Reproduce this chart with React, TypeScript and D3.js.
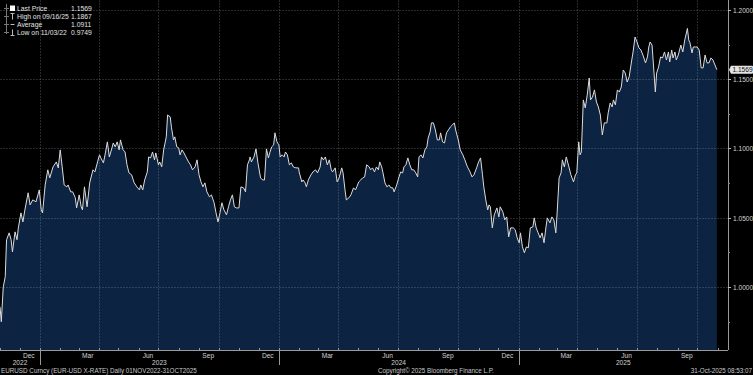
import React from "react";
import * as d3 from "d3";

// EURUSD daily closes: [days since START, close]
const START = "2022-11-01";
const END_DOMAIN = "2025-11-17";
const closes: [number, number][] = [
  [0, 0.9857], [2, 0.9749], [5, 1.0001], [8, 1.0074], [10, 1.0341], [14, 1.0391], [17, 1.0341],
  [19, 1.0254], [23, 1.0398], [26, 1.0341], [28, 1.0427], [32, 1.0535], [35, 1.047], [38, 1.0557],
  [43, 1.068], [46, 1.0593], [50, 1.0629], [55, 1.0615], [60, 1.0701], [63, 1.0557], [65, 1.0535],
  [69, 1.0737], [73, 1.0846], [76, 1.0788], [81, 1.0867], [86, 1.0903], [89, 1.086], [92, 1.099],
  [95, 1.0867], [98, 1.0737], [102, 1.0723], [104, 1.0737], [108, 1.0687], [111, 1.0687], [115, 1.0644],
  [117, 1.0571], [121, 1.0665], [124, 1.0579], [126, 1.0557], [129, 1.0723], [133, 1.0579], [137, 1.0752],
  [142, 1.0846], [145, 1.0831], [149, 1.0903], [152, 1.0954], [154, 1.0932], [158, 1.0896], [161, 1.0968],
  [164, 1.1048], [167, 1.0939], [171, 1.1004], [173, 1.104], [176, 1.1012], [179, 1.1048], [182, 1.099],
  [184, 1.1062], [188, 1.099], [191, 1.0975], [194, 1.0882], [197, 1.0824], [201, 1.081], [205, 1.0752],
  [209, 1.0723], [213, 1.0701], [215, 1.0737], [218, 1.0701], [221, 1.0773], [225, 1.0831], [227, 1.0939],
  [230, 1.0932], [233, 1.0975], [236, 1.0918], [238, 1.0968], [242, 1.0882], [244, 1.0903], [247, 1.0867],
  [250, 1.099], [254, 1.1084], [256, 1.1242], [260, 1.1228], [262, 1.1149], [265, 1.1062], [267, 1.1084],
  [270, 1.1012], [273, 1.1004], [275, 1.0954], [278, 1.099], [281, 1.0968], [284, 1.0939], [288, 1.0903],
  [291, 1.0882], [294, 1.0846], [298, 1.0867], [301, 1.0918], [304, 1.081], [307, 1.0759], [310, 1.0723],
  [313, 1.0752], [316, 1.0687], [320, 1.0651], [323, 1.0665], [327, 1.0608], [330, 1.0535], [333, 1.047],
  [336, 1.0535], [339, 1.0608], [342, 1.0557], [346, 1.0521], [349, 1.0579], [352, 1.0629], [355, 1.0665],
  [358, 1.0579], [361, 1.0571], [365, 1.0571], [368, 1.0723], [372, 1.0716], [375, 1.0687], [378, 1.0882],
  [381, 1.0918], [382, 1.0939], [384, 1.0903], [388, 1.0939], [391, 1.0997], [394, 1.0896], [398, 1.0788],
  [401, 1.0773], [404, 1.0773], [407, 1.0997], [410, 1.0932], [412, 1.0968], [415, 1.1012], [418, 1.1026],
  [420, 1.1113], [423, 1.1048], [426, 1.1026], [428, 1.0939], [431, 1.0954], [434, 1.0939], [436, 1.0975],
  [439, 1.0954], [442, 1.0882], [445, 1.0896], [448, 1.0867], [452, 1.086], [456, 1.086], [457, 1.0831],
  [461, 1.0759], [463, 1.0773], [466, 1.0752], [468, 1.0723], [471, 1.0773], [475, 1.081], [478, 1.0831],
  [482, 1.0846], [485, 1.0824], [489, 1.0867], [491, 1.0939], [494, 1.0918], [497, 1.0939], [500, 1.0882],
  [503, 1.0918], [506, 1.0846], [508, 1.0831], [512, 1.086], [515, 1.0759], [518, 1.0788], [522, 1.086],
  [524, 1.0824], [527, 1.0701], [529, 1.0629], [533, 1.0644], [536, 1.0665], [540, 1.0716], [543, 1.0701],
  [545, 1.0723], [548, 1.0759], [551, 1.0773], [554, 1.0788], [557, 1.0795], [560, 1.0882], [564, 1.0867],
  [566, 1.0846], [569, 1.086], [572, 1.0831], [575, 1.0867], [578, 1.0846], [580, 1.0903], [583, 1.0867],
  [585, 1.0824], [588, 1.0752], [591, 1.0723], [594, 1.0737], [597, 1.0716], [600, 1.0716], [602, 1.0687],
  [606, 1.0737], [609, 1.0788], [612, 1.0831], [615, 1.0824], [617, 1.0867], [620, 1.0882], [623, 1.0932],
  [626, 1.0882], [629, 1.0846], [632, 1.0846], [635, 1.0824], [638, 1.0795], [640, 1.0939], [643, 1.0954],
  [646, 1.0932], [649, 1.099], [652, 1.1012], [654, 1.1076], [657, 1.112], [659, 1.1185], [662, 1.1185],
  [665, 1.1134], [668, 1.1062], [671, 1.1062], [673, 1.1113], [676, 1.1048], [679, 1.104], [682, 1.1113],
  [685, 1.1134], [688, 1.1156], [691, 1.117], [694, 1.1185], [696, 1.1134], [700, 1.1062], [703, 1.099],
  [707, 1.0954], [710, 1.0918], [714, 1.0867], [718, 1.0831], [721, 1.0795], [724, 1.081], [728, 1.086],
  [731, 1.0903], [734, 1.0932], [737, 1.081], [739, 1.0723], [742, 1.0629], [745, 1.0557], [747, 1.0593],
  [749, 1.0579], [752, 1.0427], [755, 1.0521], [759, 1.0571], [762, 1.0506], [764, 1.0579], [768, 1.0543],
  [771, 1.0485], [774, 1.0506], [777, 1.0362], [780, 1.0427], [784, 1.0427], [787, 1.0413], [790, 1.0355],
  [793, 1.0319], [795, 1.0391], [798, 1.029], [801, 1.0247], [804, 1.029], [807, 1.0283], [810, 1.0427],
  [814, 1.0434], [816, 1.0499], [819, 1.0427], [822, 1.0391], [825, 1.0355], [828, 1.0391], [831, 1.0319],
  [834, 1.0434], [836, 1.0499], [840, 1.0463], [843, 1.0506], [846, 1.0485], [849, 1.0391], [851, 1.0535],
  [854, 1.0788], [857, 1.0824], [859, 1.0918], [862, 1.0867], [865, 1.0939], [869, 1.0867], [872, 1.081],
  [876, 1.0759], [879, 1.081], [881, 1.0824], [884, 1.1048], [886, 1.0954], [888, 1.0975], [891, 1.1351],
  [894, 1.1293], [897, 1.1387], [900, 1.1509], [902, 1.1351], [905, 1.1372], [908, 1.1423], [911, 1.1336],
  [914, 1.13], [917, 1.1242], [920, 1.1098], [923, 1.1185], [927, 1.1185], [929, 1.1257], [932, 1.1329],
  [935, 1.13], [937, 1.1351], [940, 1.1315], [943, 1.1423], [946, 1.1408], [949, 1.1444], [952, 1.1567],
  [955, 1.1545], [958, 1.148], [961, 1.1517], [965, 1.1639], [967, 1.1697], [970, 1.1805], [973, 1.1769],
  [976, 1.1726], [979, 1.1711], [982, 1.1675], [986, 1.1618], [989, 1.1661], [991, 1.1733], [993, 1.1769],
  [996, 1.1747], [999, 1.1545], [1001, 1.1408], [1003, 1.1545], [1006, 1.1589], [1009, 1.1661], [1012, 1.1654],
  [1015, 1.1697], [1018, 1.1639], [1021, 1.1697], [1023, 1.1625], [1026, 1.1711], [1028, 1.1654], [1031, 1.1697],
  [1033, 1.1639], [1036, 1.1675], [1040, 1.1747], [1043, 1.1697], [1046, 1.1784], [1050, 1.1867], [1052, 1.1784],
  [1054, 1.1762], [1057, 1.169], [1059, 1.1733], [1062, 1.1733], [1065, 1.1733], [1068, 1.1711], [1071, 1.1582],
  [1074, 1.1582], [1077, 1.1675], [1080, 1.1618], [1083, 1.1618], [1086, 1.1654], [1089, 1.1639], [1095, 1.1569],
];

const yTicks = [1.0, 1.05, 1.1, 1.15, 1.2];
const yMinorTicks = [0.975, 1.025, 1.075, 1.125, 1.175];
const years = [2022, 2023, 2024, 2025];
const LAST_PRICE = 1.1569;

const legendRows = [
  { label: "Last Price", value: "1.1569", mark: "square" },
  { label: "High on 09/16/25", value: "1.1867", mark: "high" },
  { label: "Average", value: "1.0911", mark: "avg" },
  { label: "Low on 11/03/22", value: "0.9749", mark: "low" },
];

const footerLeft = "EURUSD Curncy (EUR-USD X-RATE) Daily 01NOV2022-31OCT2025";
const footerMid = "Copyright\u00A9 2025 Bloomberg Finance L.P.";
const footerRight = "31-Oct-2025 08:53:07";

const FONT = "'Liberation Sans', Arial, sans-serif";

export default function App() {
  const W = 753;
  const H = 375;
  const right = 728;
  const bottom = 350;

  const start = new Date(START + "T00:00:00");
  const end = new Date(END_DOMAIN + "T00:00:00");
  const data = closes.map(([d, v]) => ({ date: d3.timeDay.offset(start, d), v }));

  const x = d3.scaleTime().domain([start, end]).range([0, right]);
  const y = d3.scaleLinear().domain([1.0, 1.2]).range([287, 10]);

  const area = d3
    .area<{ date: Date; v: number }>()
    .x((d) => x(d.date))
    .y0(bottom)
    .y1((d) => y(d.v));
  const line = d3
    .line<{ date: Date; v: number }>()
    .x((d) => x(d.date))
    .y((d) => y(d.v));

  const months = d3.timeMonth.range(start, end);
  const gridMonths = months.filter((m) => m.getMonth() % 3 === 0);
  const labelMonths = months.filter((m) => m.getMonth() % 3 === 2);
  const yearStarts = months.filter((m) => m.getMonth() === 0);
  const fmt = d3.timeFormat("%b");

  const yearMid = (yr: number) => {
    const a = Math.max(+start, +new Date(yr, 0, 1));
    const b = Math.min(+end, +new Date(yr + 1, 0, 1));
    return (x(new Date(a)) + x(new Date(b))) / 2;
  };

  const lastX = x(data[data.length - 1].date);

  return (
    <svg
      width={W}
      height={H}
      style={{ position: "fixed", left: 0, top: 0, display: "block" }}
      fontFamily={FONT}
    >
      <rect width={W} height={H} fill="#000" />

      <path d={area(data) || ""} fill="#0c2341" />

      {/* grid */}
      {yTicks.map((t) => (
        <line
          key={t}
          x1={0}
          x2={right}
          y1={Math.round(y(t)) + 0.5}
          y2={Math.round(y(t)) + 0.5}
          stroke="#8a96a6"
          strokeOpacity={0.28}
          strokeDasharray="2,1"
        />
      ))}
      {gridMonths.map((m) => (
        <line
          key={+m}
          x1={Math.round(x(m)) + 0.5}
          x2={Math.round(x(m)) + 0.5}
          y1={0}
          y2={bottom}
          stroke="#8a96a6"
          strokeOpacity={0.28}
          strokeDasharray="2,1"
        />
      ))}

      <path d={line(data) || ""} fill="none" stroke="#dcdcdc" strokeWidth={1} strokeLinejoin="round" />

      {/* right axis */}
      <line x1={right + 0.5} x2={right + 0.5} y1={0} y2={bottom} stroke="#9a9a9a" />
      {yTicks.map((t) => (
        <g key={t} transform={`translate(${right},${Math.round(y(t)) + 0.5})`}>
          <line x1={0} x2={3} stroke="#bbb" />
          <text x={5} dy="0.34em" fontSize={6.6} fill="#d2d2d2">
            {t.toFixed(4)}
          </text>
        </g>
      ))}
      {yMinorTicks.map((t) => (
        <line
          key={t}
          x1={right}
          x2={right + 2}
          y1={Math.round(y(t)) + 0.5}
          y2={Math.round(y(t)) + 0.5}
          stroke="#888"
        />
      ))}
      <g transform={`translate(${right + 1},${y(LAST_PRICE)})`}>
        <path d="M0,0 L2,-4 L23,-4 Q24,-4 24,-3 L24,3 Q24,4 23,4 L2,4 Z" fill="#e4e4e4" />
        <text x={13.5} dy="0.34em" fontSize={6.6} fill="#111" textAnchor="middle">
          {LAST_PRICE.toFixed(4)}
        </text>
      </g>

      {/* bottom axis */}
      <line x1={0} x2={right} y1={bottom + 0.5} y2={bottom + 0.5} stroke="#9a9a9a" />
      {months.map((m) => (
        <line
          key={+m}
          x1={Math.round(x(m)) + 0.5}
          x2={Math.round(x(m)) + 0.5}
          y1={bottom - 2}
          y2={bottom}
          stroke="#999"
        />
      ))}
      {yearStarts.map((m) => (
        <line
          key={+m}
          x1={Math.round(x(m)) + 0.5}
          x2={Math.round(x(m)) + 0.5}
          y1={bottom}
          y2={bottom + 15}
          stroke="#999"
        />
      ))}
      {labelMonths.map((m) => (
        <text
          key={+m}
          x={x(new Date(m.getFullYear(), m.getMonth(), 15))}
          y={358}
          fontSize={6.6}
          fill="#d2d2d2"
          textAnchor="middle"
        >
          {fmt(m)}
        </text>
      ))}
      {years.map((yr) => (
        <text key={yr} x={yearMid(yr)} y={365} fontSize={6.6} fill="#d2d2d2" textAnchor="middle">
          {yr}
        </text>
      ))}

      {/* footer */}
      <text x={1} y={373} fontSize={6.3} fill="#c8c8c8">
        {footerLeft}
      </text>
      <text x={378} y={373} fontSize={6.3} fill="#c8c8c8">
        {footerMid}
      </text>
      <text x={752} y={373} fontSize={6.3} fill="#c8c8c8" textAnchor="end">
        {footerRight}
      </text>

      {/* legend */}
      <line x1={6.5} x2={6.5} y1={4} y2={34} stroke="#777" />
      {legendRows.map((r, i) => {
        const cy = 8.5 + i * 8;
        return (
          <g key={r.label} transform={`translate(0,${cy})`}>
            <line x1={4} x2={9} y1={0} y2={0} stroke="#777" />
            {r.mark === "square" && <rect x={10} y={-3} width={5} height={5.5} fill="#fff" />}
            {r.mark === "high" && (
              <path d="M10.5,-3 L14.5,-3 M12.5,-3 L12.5,3" stroke="#bbb" fill="none" />
            )}
            {r.mark === "avg" && <path d="M10.5,0 L14.5,0" stroke="#bbb" fill="none" />}
            {r.mark === "low" && (
              <path d="M12.5,-3 L12.5,3 M10.5,3 L14.5,3" stroke="#bbb" fill="none" />
            )}
            <text x={17} dy="0.34em" fontSize={6.8} fill="#e2e2e2">
              {r.label}
            </text>
            <text x={71} dy="0.34em" fontSize={6.8} fill="#e2e2e2">
              {r.value}
            </text>
          </g>
        );
      })}
      {lastX > 0 && null}
    </svg>
  );
}
